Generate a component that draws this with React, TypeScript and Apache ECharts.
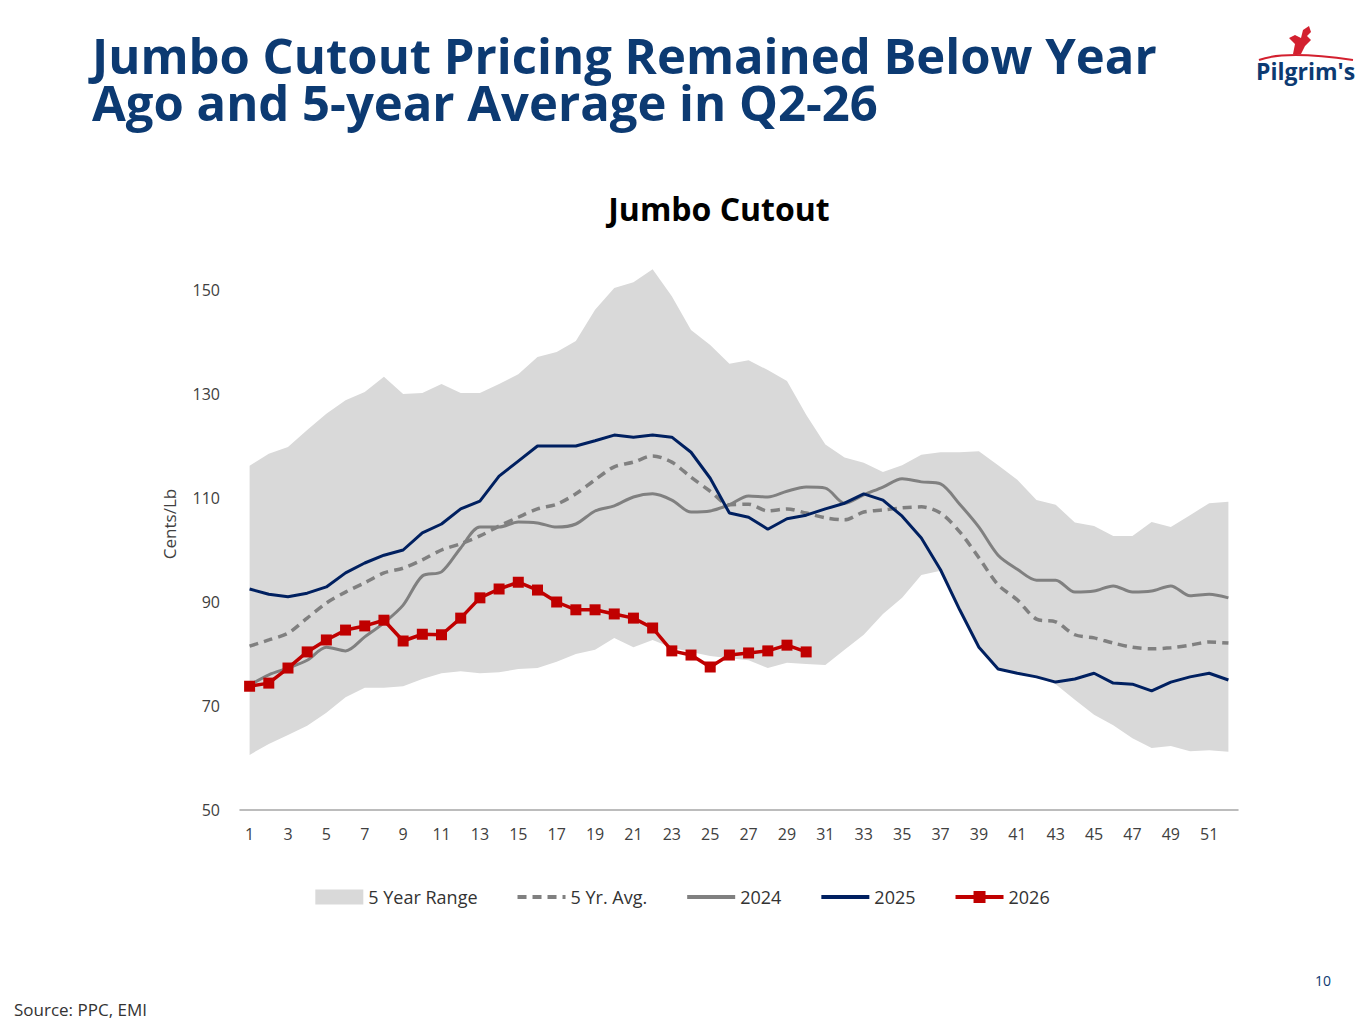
import { useEffect, useRef } from "react";
import * as echarts from "echarts";

const weeks = Array.from({ length: 52 }, (_, i) => String(i + 1));

const rangeLow = [
  60.6, 62.7, 64.4, 66.2, 68.7, 71.7, 73.5, 73.5, 73.8, 75.2, 76.3, 76.7, 76.3,
  76.5, 77.1, 77.3, 78.5, 80, 80.8, 83.1, 81.3, 82.7, 81.2, 80.4, 79.6, 79.2,
  78.8, 77.3, 78.3, 78.1, 77.9, 80.8, 83.7, 87.7, 90.8, 95.2, 96, 88.5, 81.3,
  77.1, 76.3, 75.6, 74.2, 71.2, 68.3, 66.3, 63.8, 61.9, 62.3, 61.3, 61.5, 61.2,
];
const rangeHigh = [
  116.2, 118.5, 119.8, 123.1, 126.2, 128.8, 130.4, 133.3, 130, 130.2, 131.9,
  130.2, 130.2, 131.9, 133.8, 137.1, 138.1, 140.2, 146.2, 150.4, 151.5, 154,
  148.8, 142.3, 139.4, 135.8, 136.5, 134.6, 132.5, 126, 120.3, 117.8, 116.8,
  115, 116.3, 118.3, 118.8, 118.8, 119, 116.3, 113.5, 109.6, 108.7, 105.3,
  104.6, 102.7, 102.7, 105.4, 104.4, 106.7, 109, 109.3,
];
const avg5 = [
  81.5, 82.7, 84, 86.9, 89.8, 91.9, 93.7, 95.6, 96.5, 98.1, 100, 101.2, 102.7,
  104.6, 106.3, 107.9, 108.8, 110.8, 113.5, 116, 116.9, 118.1, 116.9, 114,
  111.3, 108.7, 108.8, 107.5, 107.9, 107.1, 106.2, 105.8, 107.3, 107.7, 108.1,
  108.3, 107.1, 103.5, 98.5, 93.3, 90.4, 86.7, 86.2, 83.7, 83.1, 82.1, 81.3,
  81, 81.2, 81.7, 82.3, 82.1,
];
const y2024 = [
  74, 76, 77.3, 78.8, 81.3, 80.6, 83.3, 86, 89.4, 95, 95.8, 100.4, 104.4, 104.4,
  105.4, 105.2, 104.4, 105, 107.5, 108.5, 110.2, 110.8, 109.6, 107.3, 107.5,
  108.7, 110.4, 110.2, 111.3, 112.1, 111.9, 109, 110.6, 112.1, 113.7, 113.1,
  112.7, 108.8, 104.4, 99, 96.3, 94.2, 94.2, 91.9, 92.1, 93.1, 91.9, 92.1, 93.1,
  91.2, 91.5, 90.8,
];
const y2025 = [
  92.5, 91.5, 91, 91.7, 92.9, 95.6, 97.5, 99, 100, 103.3, 105, 107.9, 109.4,
  114.2, 117.1, 120, 120, 120, 121, 122.1, 121.7, 122.1, 121.7, 118.8, 113.8,
  107.1, 106.3, 104, 106, 106.7, 107.9, 109, 110.8, 109.6, 106.5, 102.3, 96.2,
  88.5, 81.3, 77.1, 76.3, 75.6, 74.6, 75.2, 76.3, 74.4, 74.2, 72.9, 74.6, 75.6,
  76.3, 75,
];
const y2026 = [
  73.8, 74.4, 77.3, 80.4, 82.7, 84.6, 85.4, 86.5, 82.5, 83.8, 83.7, 86.9, 90.8,
  92.5, 93.8, 92.3, 90, 88.5, 88.5, 87.7, 86.9, 85, 80.6, 79.8, 77.5, 79.8, 80.2,
  80.6, 81.7, 80.4,
];

const FONT = "'Open Sans', sans-serif";
const NAVY = "#0c3a72";

export default function App() {
  const chartRef = useRef(null);

  useEffect(() => {
    const chart = echarts.init(chartRef.current, null, { renderer: "svg" });

    const headline = {
      fontSize: 49,
      fontWeight: 700,
      color: NAVY,
      fontFamily: FONT,
    };

    const options = {
      animation: false,
      textStyle: { fontFamily: FONT },
      title: [
        {
          text: "Jumbo Cutout Pricing Remained Below Year",
          left: 92,
          top: 30,
          padding: 0,
          textStyle: headline,
        },
        {
          text: "Ago and 5-year Average in Q2-26",
          left: 92,
          top: 77,
          padding: 0,
          textStyle: headline,
        },
        {
          text: "Jumbo Cutout",
          left: 714,
          top: 187,
          textAlign: "center",
          textStyle: {
            fontSize: 32,
            fontWeight: 700,
            color: "#000",
            fontFamily: FONT,
          },
        },
      ],
      graphic: [
        {
          type: "text",
          left: 14,
          top: 1001,
          style: { text: "Source: PPC, EMI", fontSize: 17, fill: "#333", fontFamily: FONT },
        },
        {
          type: "text",
          left: 1315,
          top: 973,
          style: { text: "10", fontSize: 14, fill: NAVY, fontFamily: FONT },
        },
        {
          type: "group",
          left: 1256,
          top: 26,
          children: [
            {
              type: "polygon",
              shape: {
                points: [
                  [38, 28], [40, 18], [34, 12], [40, 9], [46, 12], [48, 4],
                  [54, 0], [56, 6], [52, 10], [56, 14], [50, 20], [46, 28],
                ],
              },
              style: { fill: "#d3202f" },
            },
            {
              type: "bezierCurve",
              shape: { x1: 4, y1: 34, cpx1: 30, cpy1: 24, x2: 98, y2: 34 },
              style: { stroke: "#d3202f", lineWidth: 2, fill: null },
            },
            {
              type: "text",
              x: 1,
              y: 33,
              style: {
                text: "Pilgrim's",
                fontSize: 23,
                fontWeight: 700,
                fill: NAVY,
                fontFamily: FONT,
              },
            },
          ],
        },
      ],
      legend: {
        top: 883,
        left: "center",
        itemWidth: 48,
        itemHeight: 15,
        itemGap: 38,
        lineStyle: { width: 4 },
        textStyle: { fontSize: 18, color: "#333", fontFamily: FONT },
        data: [
          { name: "5 Year Range", icon: "rect", itemStyle: { color: "#d9d9d9" } },
          { name: "5 Yr. Avg.", itemStyle: { opacity: 0 } },
          { name: "2024", itemStyle: { opacity: 0 } },
          { name: "2025", itemStyle: { opacity: 0 } },
          "2026",
        ],
      },
      grid: { left: 240, right: 127, top: 238, bottom: 214 },
      xAxis: {
        type: "category",
        data: weeks,
        boundaryGap: true,
        axisTick: { show: false },
        axisLine: { lineStyle: { color: "#a6a6a6", width: 1.5 } },
        axisLabel: { interval: 1, fontSize: 16, color: "#404040", margin: 16 },
      },
      yAxis: {
        type: "value",
        min: 50,
        max: 160,
        interval: 20,
        name: "Cents/Lb",
        nameLocation: "middle",
        nameGap: 62,
        nameTextStyle: { fontSize: 17, color: "#404040" },
        splitLine: { show: false },
        axisLine: { show: false },
        axisTick: { show: false },
        axisLabel: { showMaxLabel: false, fontSize: 16, color: "#404040", margin: 20 },
      },
      series: [
        {
          name: "rangeBase",
          type: "line",
          stack: "range",
          data: rangeLow,
          symbol: "none",
          lineStyle: { opacity: 0 },
          silent: true,
        },
        {
          name: "5 Year Range",
          type: "line",
          stack: "range",
          data: rangeHigh.map((h, i) => +(h - rangeLow[i]).toFixed(1)),
          symbol: "none",
          itemStyle: { color: "#d9d9d9" },
          lineStyle: { width: 0 },
          areaStyle: { color: "#d9d9d9", opacity: 1 },
        },
        {
          name: "5 Yr. Avg.",
          type: "line",
          data: avg5,
          symbol: "none",
          smooth: 0.3,
          itemStyle: { color: "#808080" },
          lineStyle: { color: "#808080", width: 3.5, type: [9, 6] },
        },
        {
          name: "2024",
          type: "line",
          data: y2024,
          symbol: "none",
          smooth: 0.3,
          itemStyle: { color: "#808080" },
          lineStyle: { color: "#808080", width: 3 },
        },
        {
          name: "2025",
          type: "line",
          data: y2025,
          symbol: "none",
          itemStyle: { color: "#002060" },
          lineStyle: { color: "#002060", width: 3 },
        },
        {
          name: "2026",
          type: "line",
          data: y2026,
          symbol: "rect",
          symbolSize: 11,
          itemStyle: { color: "#c00000" },
          lineStyle: { color: "#c00000", width: 3.5 },
        },
      ],
    };

    chart.setOption(options);

    return () => {
      chart.dispose();
    };
  }, []);

  return (
    <div
      ref={chartRef}
      style={{ position: "fixed", left: 0, top: 0, width: "1365px", height: "1024px", background: "#fff" }}
    />
  );
}
